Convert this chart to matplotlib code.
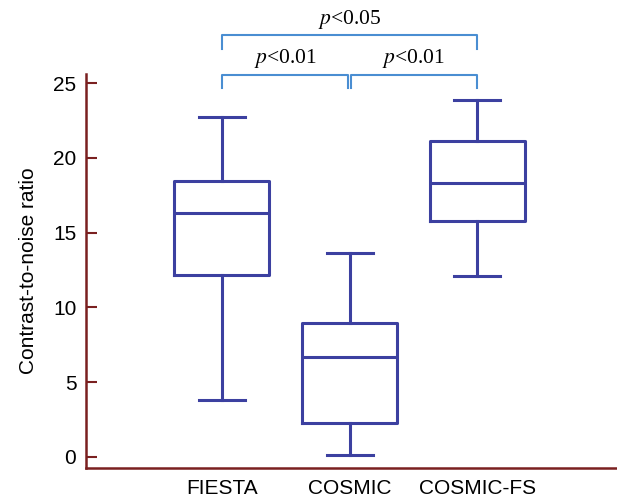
import matplotlib.pyplot as plt

plt.rcParams["font.family"] = ["Liberation Sans", "DejaVu Sans"]

groups = ["FIESTA", "COSMIC", "COSMIC-FS"]
whislo = [3.8, 0.15, 12.1]
q1 = [12.2, 2.3, 15.8]
med = [16.3, 6.7, 18.3]
q3 = [18.45, 8.95, 21.1]
whishi = [22.75, 13.65, 23.85]

comparisons = [(1, 2, "<0.01"), (2, 3, "<0.01"), (1, 3, "<0.05")]

box_color = "#3c40a0"
spine_color = "#7a2020"
bracket_color = "#4a8ed2"

stats = []
for i, g in enumerate(groups):
    stats.append({"label": g, "whislo": whislo[i], "q1": q1[i], "med": med[i],
                  "q3": q3[i], "whishi": whishi[i], "fliers": []})

fig = plt.figure(figsize=(6.17, 5.01), dpi=100)
ax = fig.add_axes([0.1394, 0.0659, 0.86, 0.786])

line = dict(color=box_color, linewidth=2.2)
ax.bxp(stats, positions=[1, 2, 3], widths=0.74, showfliers=False,
       boxprops=line, medianprops=line, whiskerprops=line,
       capprops=line, capwidths=0.36)

ax.set_xlim(-0.0625, 4.09)
ax.set_ylim(-0.74, 25.6)
ax.set_yticks([0, 5, 10, 15, 20, 25])
ax.tick_params(axis="y", direction="in", length=8, width=1.5,
               color=spine_color, labelsize=15, pad=7)
ax.tick_params(axis="x", length=0, labelsize=15, pad=8)
ax.set_ylabel("Contrast-to-noise ratio", fontsize=15, labelpad=11)

for s in ["top", "right"]:
    ax.spines[s].set_visible(False)
for s in ["left", "bottom"]:
    ax.spines[s].set_color(spine_color)
    ax.spines[s].set_linewidth(1.8)

# significance brackets
levels = {(1, 2): 25.55, (2, 3): 25.55, (1, 3): 28.2}
for a, b, txt in comparisons:
    y = levels[(a, b)]
    x0 = a + (0.015 if a == 2 else 0)
    x1 = b - (0.015 if b == 2 else 0)
    ax.plot([x0, x0, x1, x1], [y - 0.9, y, y, y - 0.9], color=bracket_color,
            linewidth=1.5, clip_on=False)
    ax.text((a + b) / 2, y + 0.3, "$\\it{p}$" + txt, ha="center", va="bottom",
            fontsize=15.5, family="Liberation Serif", math_fontfamily="stix")

fig.savefig("out.png", dpi=100)
